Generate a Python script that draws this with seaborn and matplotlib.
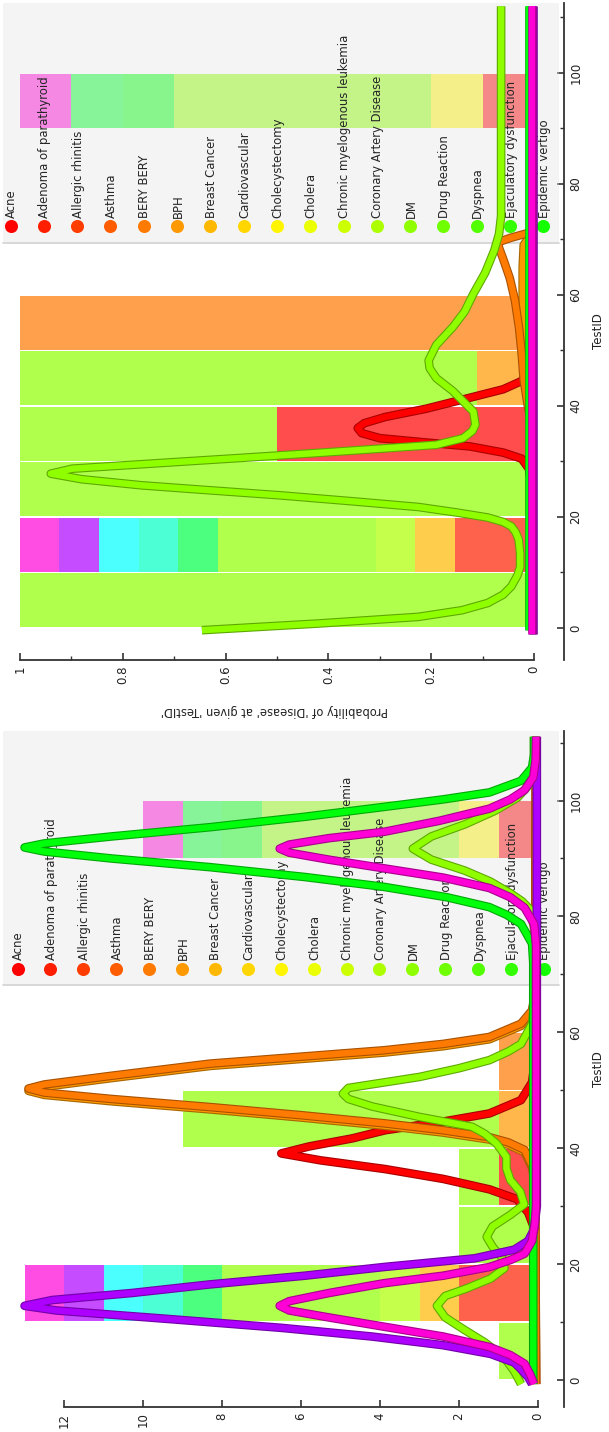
import colorsys
import numpy as np
import pandas as pd
import matplotlib
matplotlib.use("Agg")
import matplotlib.pyplot as plt
import matplotlib.patheffects as pe
import matplotlib.transforms as mtransforms
from matplotlib.patches import Rectangle
from matplotlib.ticker import FixedLocator, MultipleLocator, FuncFormatter, NullLocator
import seaborn as sns

# ---------------------------------------------------------------- data
DISEASES = ["Acne", "Adenoma of parathyroid", "Allergic rhinitis", "Asthma",
            "BERY BERY", "BPH", "Breast Cancer", "Cardiovascular",
            "Cholecystectomy", "Cholera", "Chronic myelogenous leukemia",
            "Coronary Artery Disease", "DM", "Drug Reaction", "Dyspnea",
            "Ejaculatory dysfunction", "Epidemic vertigo"]
PALETTE_SIZE = 50          # classes are coloured around a hue wheel

# stacked bars: one TestID per 10-wide bin, class index, number of cases
bar_testid = [5, 15, 15, 15, 15, 15, 15, 15, 15, 15, 25, 35, 35, 45, 45, 55,
              95, 95, 95, 95, 95, 95]
bar_class = [12, 1, 6, 11, 12, 19, 23, 25, 39, 43, 12, 0, 12, 5, 12, 4,
             0, 8, 12, 17, 18, 43]
bar_count = [1, 2, 1, 1, 4, 1, 1, 1, 1, 1, 2, 1, 1, 1, 8, 1,
             1, 1, 5, 1, 1, 1]

# ---- count panel curves (TestID, value)
cnt_acne_t = [-0.7, 24, 26.6, 28.9, 31.2, 32.9, 34.7, 36.4, 37.9, 39.1, 40.3, 41.7, 43.1, 44.6, 46, 48.3, 51.4, 55, 111]
cnt_acne_v = [0.05, 0.07, 0.12, 0.25, 0.53, 1.23, 2.4, 3.87, 5.5, 6.5, 5.8, 4.7, 3.87, 2.4, 1.23, 0.43, 0.15, 0.08, 0.05]

cnt_bph_t = [-0.7, 33.6, 36.6, 39.3, 40.6, 41.5, 42.7, 43.9, 45.3, 46.7, 48.1, 49.2, 49.9, 50.6, 52.1, 54.2, 55.4, 56.5, 57.6, 58.8, 61.1, 63.4, 66.6, 111]
cnt_bph_v = [0.05, 0.07, 0.15, 0.34, 0.75, 1.23, 2.4, 3.9, 6.0, 8.3, 10.8, 12.5, 12.9, 12.5, 10.8, 8.3, 6.0, 3.9, 2.4, 1.23, 0.43, 0.15, 0.07, 0.05]

cnt_bery_t = [-0.7, 34, 37, 39.7, 41, 41.9, 43.1, 44.3, 45.7, 47.1, 48.5, 49.6, 50.3, 51, 52.5, 54.6, 55.8, 56.9, 58, 59.2, 61.5, 63.8, 67, 111]
cnt_bery_v = [0.05, 0.07, 0.15, 0.34, 0.75, 1.23, 2.4, 3.9, 6.0, 8.3, 10.8, 12.5, 12.9, 12.5, 10.8, 8.3, 6.0, 3.9, 2.4, 1.23, 0.43, 0.15, 0.07, 0.05]

cnt_dm_t = [-0.7, 1.5, 4, 6.5, 8.6, 10.8, 12.8, 14.5, 15.7, 17.5, 19.3, 21, 23, 24.7, 26.5, 28.5, 30.3, 32.5,
            34.5, 36.5, 38.5, 40.8, 42.5, 43.7, 45.4, 47.2, 48.5, 49.4, 50.4, 52.3, 53.8, 55.2, 56.7, 58,
            61.5, 65, 78, 81.2, 82.6, 84, 86, 87.9, 89.8, 91.7, 93.8, 95.9, 98.2, 100.5, 103.3, 106, 111]
cnt_dm_v = [0.43, 0.6, 0.87, 1.35, 1.85, 2.35, 2.56, 2.35, 1.85, 1.2, 0.85, 0.9, 1.15, 1.3, 1.15, 0.7, 0.35, 0.45,
            0.7, 0.8, 0.8, 1.05, 1.35, 1.67, 3.0, 4.2, 4.8, 4.94, 4.8, 3.0, 2.0, 1.23, 0.75, 0.43,
            0.15, 0.1, 0.1, 0.2, 0.4, 0.7, 1.2, 1.85, 2.7, 3.17, 2.7, 1.85, 1.1, 0.52, 0.15, 0.1, 0.1]

cnt_green_t = [-0.7, 72, 75.3, 78.7, 80.3, 81.6, 83.3, 85.1, 86.8, 88.5, 90, 91.2, 91.9, 92.6, 93.8, 95.4,
               97.2, 98.9, 100.2, 101.4, 103.4, 105.7, 108, 111]
cnt_green_v = [0.12, 0.12, 0.15, 0.43, 0.8, 1.23, 2.3, 3.9, 5.9, 8.3, 10.8, 12.5, 13.0, 12.5, 10.8, 8.3,
               5.9, 3.9, 2.4, 1.23, 0.43, 0.15, 0.1, 0.1]

cnt_purple_t = [-0.7, 0.5, 2, 3, 4.5, 6, 7.5, 9, 10.5, 12, 12.8, 13.8, 15, 16.5, 18, 19.5, 21, 22.5, 24, 26, 30, 111]
cnt_purple_v = [0.15, 0.25, 0.45, 0.6, 1.2, 2.4, 4.2, 6.5, 9.3, 12.2, 13.0, 12.3, 10.3, 8.3, 5.9, 3.9, 1.6, 0.6, 0.25, 0.1, 0.03, 0.03]

cnt_magenta_t = [-0.7, 1, 2.8, 4.3, 5.7, 7.5, 9.2, 10.8, 12, 12.8, 13.6, 15, 16.7, 18, 19.5, 20.7, 21.8, 24, 27, 30,
                 75, 78.7, 81.5, 83.3, 84.9, 86.7, 88.3, 89.8, 91, 91.7, 92.4, 93.5, 94.6, 96.5, 98.6, 100.2,
                 101.8, 104, 107, 111]
cnt_magenta_v = [0.1, 0.2, 0.34, 0.7, 1.23, 2.4, 3.9, 5.3, 6.3, 6.54, 6.3, 5.3, 3.9, 2.4, 1.23, 0.7, 0.34, 0.15, 0.08, 0.05,
                 0.05, 0.1, 0.34, 0.7, 1.23, 2.4, 3.9, 5.3, 6.3, 6.54, 6.3, 5.3, 3.9, 2.5, 1.23, 0.7,
                 0.34, 0.12, 0.06, 0.05]

# ---- probability panel curves (TestID, probability)
prob_acne_t = [-0.4, 26, 28.7, 30.5, 31.6, 32.7, 33.5, 34.2, 35.1, 36, 36.9, 38, 39.5, 41.5, 43, 44.5, 46.7, 50, 112]
prob_acne_v = [0.005, 0.005, 0.01, 0.024, 0.06, 0.124, 0.22, 0.3, 0.335, 0.343, 0.33, 0.29, 0.21, 0.124, 0.06, 0.024, 0.01, 0.005, 0.005]

prob_bph_t = [-0.4, 38, 42, 46, 55, 65, 69, 71, 112]
prob_bph_v = [0.003, 0.003, 0.012, 0.02, 0.022, 0.022, 0.02, 0.005, 0.004]

prob_bery_t = [-0.4, 36, 40, 44.7, 49.5, 54, 59, 63, 66.5, 68.5, 69.5, 70.3, 71.2, 72.5, 112]
prob_bery_v = [0.003, 0.003, 0.012, 0.02, 0.024, 0.029, 0.037, 0.047, 0.06, 0.068, 0.07, 0.045, 0.01, 0.004, 0.004]

prob_dm_t = [-0.4, 0.8, 2, 3.2, 4.5, 6, 7.5, 9.5, 11, 13.5, 16, 17.3, 18.3, 19.1, 19.9, 20.8, 21.8, 22.8, 23.9,
             24.8, 25.7, 26.8, 27.8, 28.7, 29.9, 30.7, 31.5, 32.3, 33, 34.2, 35.5, 36.6, 39, 42.7, 45, 46.8,
             48.2, 51, 54.2, 57, 60.2, 64, 68.1, 71, 74.2, 112]
prob_dm_v = [0.646, 0.42, 0.225, 0.14, 0.09, 0.06, 0.044, 0.032, 0.027, 0.027, 0.03, 0.036, 0.044, 0.06, 0.09, 0.15,
             0.225, 0.35, 0.494, 0.63, 0.763, 0.88, 0.94, 0.898, 0.696, 0.56, 0.427, 0.3, 0.19, 0.138, 0.12,
             0.114, 0.118, 0.158, 0.19, 0.203, 0.205, 0.19, 0.158, 0.135, 0.118, 0.095, 0.077, 0.068, 0.064, 0.064]

prob_green_t = [-0.4, 112]
prob_green_v = [0.01, 0.01]
prob_purple_t = [-1, 112]
prob_purple_v = [0.002, 0.002]
prob_magenta_t = [-1, 112]
prob_magenta_v = [0.004, 0.004]

PROB_TICKS = [0, 0.2, 0.4, 0.6, 0.8, 1]
COUNT_TICKS = [0, 2, 4, 6, 8, 10, 12]
TESTID_TICKS = [0, 20, 40, 60, 80, 100]
TESTID_MINOR = [10, 30, 50, 70, 90, 110]

# ---------------------------------------------------------------- style
sns.set_theme(style="white")
plt.rcParams["font.family"] = ["DejaVu Sans"]

W, H = 609, 1432
AX_W = 541
TXT = "#222222"
SPINE = "#333333"


def color_of(i):
    return colorsys.hsv_to_rgb((i / PALETTE_SIZE) % 1.0, 1.0, 1.0)


def shade(c, f=0.66):
    return tuple(v * f for v in c)


def panel(ax, multiple, curves, xlim, ylim, leg_lo, dot_y, text_y, dot_x0, dot_dx,
          val_max, major, minor, fmt):
    df = pd.DataFrame({"TestID": bar_testid,
                       "cls": [f"c{c}" for c in bar_class],
                       "n": bar_count})
    levels = sorted(set(bar_class))
    sns.histplot(data=df, y="TestID", weights="n", hue="cls",
                 hue_order=[f"c{c}" for c in reversed(levels)],
                 palette={f"c{c}": color_of(c) for c in levels},
                 multiple=multiple, binwidth=10, binrange=(0, 100), shrink=0.975,
                 alpha=0.7, linewidth=0, legend=False, ax=ax, zorder=1)

    trans = mtransforms.blended_transform_factory(ax.transAxes, ax.transData)
    ax.add_patch(Rectangle((-0.001, leg_lo), 1.026, ylim[1] - leg_lo, transform=trans,
                           facecolor="#e4e4e4", alpha=0.4, edgecolor="none",
                           zorder=2, clip_on=False))
    ax.plot([-0.001, 1.025], [leg_lo, leg_lo], transform=trans, color="#d6d6d6",
            lw=1.3, zorder=2, clip_on=False)
    for i, name in enumerate(DISEASES):
        xf = (dot_x0 + dot_dx * i - 4) / AX_W
        ax.plot([xf], [dot_y], "o", ms=9.4, mew=0, color=color_of(i), transform=trans,
                zorder=2.5, clip_on=False)
        ax.text(xf + 0.002, text_y, name, transform=trans, rotation=90, ha="center",
                va="bottom", fontsize=8.4, color="#262626", zorder=2.6, clip_on=False)

    for t, v, ci in curves:
        c = color_of(ci)
        sns.lineplot(x=v, y=t, orient="y", estimator=None, sort=True, color=c, lw=4.6,
                     ax=ax, legend=False, zorder=3, solid_capstyle="butt",
                     path_effects=[pe.Stroke(linewidth=6.2, foreground=shade(c)), pe.Normal()])

    ax.set_xlim(*xlim)
    ax.set_ylim(*ylim)
    ax.set_facecolor("white")
    ax.grid(False)
    for s in ("top", "left"):
        ax.spines[s].set_visible(False)
    for s in ("bottom", "right"):
        ax.spines[s].set_color(SPINE)
        ax.spines[s].set_linewidth(1.3)
    ax.spines["right"].set_position(("outward", 13.7))
    ax.spines["bottom"].set_bounds(0, val_max)

    ax.yaxis.tick_right()
    ax.yaxis.set_label_position("right")
    ax.yaxis.set_major_locator(FixedLocator(TESTID_TICKS))
    ax.yaxis.set_minor_locator(FixedLocator(TESTID_MINOR))
    ax.xaxis.set_major_locator(FixedLocator(major))
    if minor is None:
        ax.xaxis.set_minor_locator(NullLocator())
    else:
        ax.xaxis.set_minor_locator(MultipleLocator(minor))
    ax.xaxis.set_major_formatter(FuncFormatter(fmt))

    ax.tick_params(axis="y", which="major", direction="in", length=5, width=1.2,
                   color=SPINE, labelrotation=90, pad=4, labelsize=8.5,
                   labelcolor=TXT, right=True, left=False, labelright=True, labelleft=False)
    ax.tick_params(axis="y", which="minor", direction="in", length=3, width=1,
                   color=SPINE, right=True, left=False)
    ax.tick_params(axis="x", which="major", direction="in", length=5, width=1.2,
                   color=SPINE, labelrotation=90, pad=4, labelsize=8.5, labelcolor=TXT,
                   bottom=True)
    ax.tick_params(axis="x", which="minor", direction="in", length=3, width=1,
                   color=SPINE, bottom=True)
    for lab in ax.get_yticklabels():
        lab.set_va("center")
    ax.set_ylabel("TestID", fontsize=8.5, color=TXT, labelpad=7, rotation=90)


fig = plt.figure(figsize=(W / 100, H / 100), dpi=100)

# ---- top panel: probability (fill)
ax_top = fig.add_axes([4 / W, 1 - 660 / H, AX_W / W, 657 / H])
panel(ax_top, "fill",
      [(prob_acne_t, prob_acne_v, 0), (prob_bph_t, prob_bph_v, 5),
       (prob_bery_t, prob_bery_v, 4), (prob_dm_t, prob_dm_v, 12),
       (prob_green_t, prob_green_v, 17), (prob_purple_t, prob_purple_v, 39),
       (prob_magenta_t, prob_magenta_v, 43)],
      xlim=(1.031, -0.0214), ylim=(-5.77, 112.6), leg_lo=69.3,
      dot_y=72.4, text_y=73.9, dot_x0=10.5, dot_dx=33.3,
      val_max=1, major=PROB_TICKS, minor=0.1, fmt=lambda v, p: f"{v:g}")
ax_top.set_xlabel("Probability of 'Disease' at given 'TestID'", rotation=180,
                  fontsize=8.3, color=TXT, labelpad=14)

# ---- bottom panel: counts (stack)
ax_bot = fig.add_axes([4 / W, 1 - 1407 / H, AX_W / W, 676 / H])
panel(ax_bot, "stack",
      [(cnt_acne_t, cnt_acne_v, 0), (cnt_bph_t, cnt_bph_v, 5),
       (cnt_bery_t, cnt_bery_v, 4), (cnt_dm_t, cnt_dm_v, 12),
       (cnt_green_t, cnt_green_v, 17), (cnt_purple_t, cnt_purple_v, 39),
       (cnt_magenta_t, cnt_magenta_v, 43)],
      xlim=(13.52, -0.177), ylim=(-4.66, 112.0), leg_lo=68.1,
      dot_y=71.0, text_y=72.5, dot_x0=17.5, dot_dx=32.9,
      val_max=12, major=COUNT_TICKS, minor=None, fmt=lambda v, p: f"{v:g}")
ax_bot.set_xlabel("")

fig.savefig("out.png", dpi=100)
